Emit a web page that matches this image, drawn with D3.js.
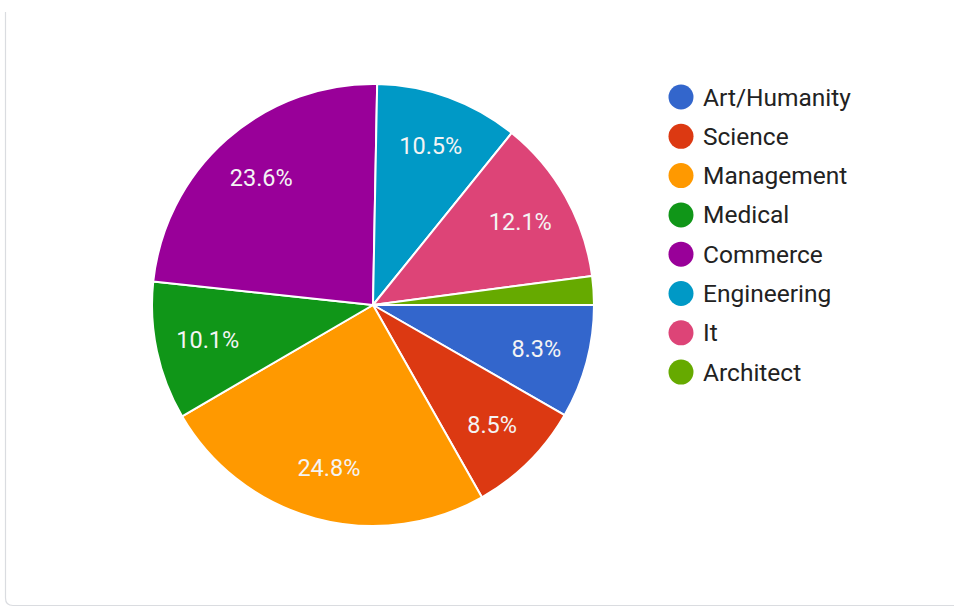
<!DOCTYPE html>
<html>
<head>
<meta charset="utf-8">
<script src="https://cdn.jsdelivr.net/npm/d3@7"></script>
<style>
  html, body { margin: 0; padding: 0; background: #ffffff; }
  svg { display: block; font-family: Roboto, "Noto Sans", Arial, sans-serif; }
</style>
</head>
<body>
<svg id="chart" width="954" height="607"></svg>
<script>
// Share of respondents by stream (percent)
const categories = ["Art/Humanity", "Science", "Management", "Medical", "Commerce", "Engineering", "It", "Architect"];
const values = [8.3, 8.5, 24.8, 10.1, 23.6, 10.5, 12.1, 2.1];
const colors = ["#3366cc", "#dc3912", "#ff9900", "#109618", "#990099", "#0099c6", "#dd4477", "#66aa00"];

const data = categories.map((c, i) => ({ name: c, value: values[i], color: colors[i] }));

const svg = d3.select("#chart");

// Card outline: left edge and bottom edge with a rounded corner
svg.append("path")
  .attr("d", "M5.5,12 L5.5,598 Q5.5,605.5 13,605.5 L954,605.5")
  .attr("fill", "none")
  .attr("stroke", "#dadce0")
  .attr("stroke-width", 1.2);

const cx = 373, cy = 305, radius = 221, labelRadius = 169;

const pie = d3.pie()
  .value(d => d.value)
  .sort(null)
  .startAngle(Math.PI / 2)
  .endAngle(Math.PI / 2 + 2 * Math.PI);

const arc = d3.arc().innerRadius(0).outerRadius(radius);
const labelArc = d3.arc().innerRadius(labelRadius).outerRadius(labelRadius);

const g = svg.append("g").attr("transform", `translate(${cx},${cy})`);

const arcs = pie(data);

g.selectAll("path.slice")
  .data(arcs)
  .join("path")
  .attr("class", "slice")
  .attr("d", arc)
  .attr("fill", d => d.data.color)
  .attr("stroke", "#ffffff")
  .attr("stroke-width", 2)
  .attr("stroke-linejoin", "round");

// Percentage labels on the larger slices
const fmt = v => v.toFixed(1) + "%";
g.selectAll("text.pct")
  .data(arcs.filter(d => d.data.value >= 5))
  .join("text")
  .attr("class", "pct")
  .attr("transform", d => `translate(${labelArc.centroid(d)})`)
  .attr("text-anchor", "middle")
  .attr("dominant-baseline", "central")
  .attr("fill", "#f4f4f4")
  .attr("font-size", 23.5)
  .text(d => fmt(d.data.value));

// Legend
const legendX = 681, legendY = 97, legendStep = 39.3;
const legend = svg.append("g");
const items = legend.selectAll("g.item")
  .data(data)
  .join("g")
  .attr("class", "item")
  .attr("transform", (d, i) => `translate(${legendX},${legendY + i * legendStep})`);

items.append("circle")
  .attr("r", 12.5)
  .attr("fill", d => d.color);

items.append("text")
  .attr("x", 22)
  .attr("dominant-baseline", "central")
  .attr("font-size", 24.5)
  .attr("fill", "#222222")
  .text(d => d.name);
</script>
</body>
</html>
